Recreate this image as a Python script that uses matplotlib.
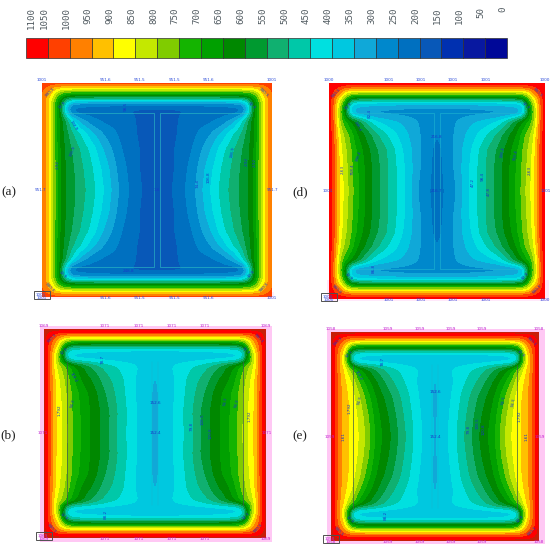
import numpy as np
import matplotlib
matplotlib.use("Agg")
import matplotlib.pyplot as plt
from matplotlib.colors import ListedColormap, BoundaryNorm
from matplotlib.patches import Rectangle

W, H = 550, 546

# ---- colour scale -------------------------------------------------
band_colors = ["#ff0000", "#ff4000", "#ff8000", "#ffc000", "#ffff00", "#c4e800",
               "#80cc00", "#14b400", "#00a000", "#008800", "#009a30", "#10b070",
               "#00c8a8", "#00e0e0", "#00c8e0", "#10a8d8", "#0088cc", "#0070c0",
               "#0858b8", "#0030b0", "#0818a0", "#000898"]
scale_labels = ["1100", "1050", "1000", "950", "900", "850", "800", "750", "700", "650",
                "600", "550", "500", "450", "400", "350", "300", "250", "200", "150",
                "100", "50", "0"]
overheat_color = "#c81e08"

# ---- temperature fields: upper-left quarter of each section ---------
u_pos = [0, .04, .08, .12, .16, .20, .26, .34, .44, .55, .68, .84, 1]
v_pos = [0, .04, .08, .12, .16, .20, .25, .29, .36, .48, .62, .80, 1]

field_a = [
    [1050, 1040, 1035, 1030, 1030, 1030, 1030, 1030, 1030, 1030, 1030, 1030, 1030],
    [1020, 985, 950, 930, 920, 915, 910, 905, 905, 905, 905, 905, 905],
    [1005, 970, 925, 850, 790, 770, 765, 760, 760, 760, 760, 760, 760],
    [1005, 945, 875, 790, 700, 640, 615, 610, 610, 610, 610, 610, 610],
    [1005, 940, 850, 730, 620, 510, 430, 410, 405, 400, 400, 395, 395],
    [1005, 940, 840, 720, 600, 420, 280, 265, 260, 255, 250, 250, 250],
    [1005, 940, 835, 715, 590, 380, 240, 230, 225, 220, 205, 190, 190],
    [1005, 940, 835, 715, 610, 450, 270, 240, 235, 230, 215, 195, 190],
    [1005, 945, 835, 715, 630, 560, 440, 330, 265, 240, 225, 195, 185],
    [1005, 945, 835, 715, 625, 585, 510, 445, 360, 290, 240, 195, 180],
    [1005, 945, 840, 725, 635, 595, 545, 490, 425, 335, 255, 200, 178],
    [1005, 940, 840, 730, 640, 600, 560, 510, 450, 375, 275, 200, 175],
    [1005, 940, 840, 730, 640, 600, 565, 520, 465, 390, 290, 205, 175],
]
field_d = [
    [1095] * 13,
    [1095, 1070, 1050, 1020, 1005, 1000, 1000, 1000, 1000, 1000, 1000, 1000, 1000],
    [1090, 1045, 1005, 950, 885, 860, 850, 850, 850, 850, 850, 850, 850],
    [1090, 1020, 950, 870, 780, 720, 695, 690, 690, 690, 690, 690, 690],
    [1090, 1005, 890, 800, 690, 520, 480, 470, 465, 460, 460, 455, 455],
    [1090, 1000, 865, 750, 610, 400, 365, 360, 350, 345, 340, 335, 335],
    [1090, 1000, 850, 720, 560, 370, 330, 310, 295, 290, 285, 280, 280],
    [1090, 1000, 850, 725, 570, 420, 330, 310, 300, 295, 290, 280, 270],
    [1090, 1005, 860, 745, 700, 650, 590, 495, 405, 370, 340, 295, 255],
    [1090, 1020, 900, 810, 775, 730, 650, 590, 510, 440, 375, 300, 250],
    [1090, 1025, 920, 840, 800, 755, 690, 625, 555, 490, 400, 305, 230],
    [1090, 1025, 925, 855, 810, 770, 705, 640, 570, 495, 415, 300, 225],
    [1090, 1025, 925, 860, 820, 775, 710, 640, 570, 490, 420, 285, 225],
]
field_b = [
    [1130] * 13,
    [1125, 1090, 1060, 1045, 1035, 1030, 1030, 1030, 1030, 1030, 1030, 1030, 1030],
    [1120, 1060, 1030, 970, 920, 895, 885, 880, 880, 880, 880, 880, 880],
    [1120, 1045, 985, 930, 830, 760, 720, 710, 710, 710, 710, 710, 710],
    [1120, 1040, 960, 890, 760, 620, 540, 520, 515, 510, 510, 510, 510],
    [1120, 1040, 935, 850, 700, 460, 420, 415, 410, 405, 400, 395, 395],
    [1120, 1040, 910, 810, 650, 420, 395, 385, 380, 375, 370, 370, 370],
    [1120, 1040, 905, 800, 670, 480, 400, 395, 390, 385, 380, 375, 370],
    [1120, 1040, 910, 830, 790, 745, 670, 605, 535, 480, 440, 402, 360],
    [1120, 1040, 925, 870, 820, 780, 710, 640, 590, 520, 465, 392, 345],
    [1120, 1040, 930, 880, 840, 800, 735, 680, 625, 550, 475, 392, 340],
    [1120, 1040, 930, 885, 850, 805, 740, 690, 635, 575, 485, 395, 340],
    [1120, 1040, 930, 885, 855, 810, 745, 690, 635, 575, 480, 395, 340],
]
field_e = [
    [1135] * 13,
    [1125, 1095, 1065, 1050, 1040, 1035, 1030, 1030, 1030, 1030, 1030, 1030, 1030],
    [1125, 1065, 1040, 1000, 960, 935, 925, 920, 920, 920, 920, 920, 920],
    [1125, 1045, 1000, 950, 860, 790, 745, 730, 730, 730, 730, 730, 730],
    [1125, 1040, 975, 920, 790, 640, 600, 590, 590, 590, 590, 590, 590],
    [1125, 1035, 955, 890, 730, 470, 420, 410, 405, 400, 400, 395, 395],
    [1125, 1035, 945, 850, 680, 420, 395, 385, 380, 375, 370, 370, 370],
    [1125, 1035, 945, 865, 720, 490, 400, 395, 390, 385, 380, 375, 370],
    [1125, 1035, 950, 900, 830, 770, 680, 610, 540, 480, 435, 400, 360],
    [1125, 1035, 960, 925, 880, 850, 760, 680, 600, 525, 460, 392, 345],
    [1125, 1030, 965, 935, 900, 875, 820, 730, 640, 570, 490, 400, 340],
    [1130, 1030, 965, 935, 905, 880, 845, 770, 665, 600, 510, 410, 340],
    [1130, 1030, 965, 935, 905, 880, 855, 790, 680, 615, 525, 415, 340],
]

# ---- small node labels (texts) ----------------------------------------
edge_a = ["1001", "951.6", "951.5", "951.5", "951.6", "1001"]
edge_d = ["1000", "1001", "1001", "1001", "1001", "1000"]
edge_b = ["1069", "1071", "1071", "1071", "1071", "1069"]
edge_e = ["1058", "1059", "1059", "1059", "1059", "1058"]
side_a, side_d, side_b, side_e = "951.7", "1001", "1071", "1059"
corner_a, corner_d, corner_b, corner_e = "1001", "1000", "1069", "1058"
inner_a = ["98.5", "248.8", "2.92", "198.9", "134.9", "1.6", "74.4", "106.8", "198.9", "2.92", "2.92"]
inner_d = ["82.4", "86.8", "2.63", "758.4", "198.4", "246.4", "216.8", "216.7", "47.2", "98.4", "47.8", "198.4", "758.4", "2.63"]
inner_b = ["78.7", "88.2", "1.792", "94.3", "118.2", "152.6", "152.4", "79.8", "108.5", "120.8", "94.3", "94.3", "1.792"]
inner_e = ["78.7", "88.2", "1.792", "1.61", "94.3", "118.2", "152.6", "152.4", "79.8", "108.5", "120.8", "94.3", "94.3", "1.792", "1.61"]
tags_a = ["930.3", "32.9", "930.3", "32.9", "930.3", "32.9", "930.3", "32.9"]

# ---- layout (pixels): left, right, top, bottom --------------------------
boxes = {"a": (42, 272, 83, 297), "d": (329, 545, 83, 299),
         "b": (44, 266, 329, 538), "e": (331, 539, 332, 541)}
fields = {"a": field_a, "d": field_d, "b": field_b, "e": field_e}
edges = {"a": edge_a, "d": edge_d, "b": edge_b, "e": edge_e}
sides = {"a": side_a, "d": side_d, "b": side_b, "e": side_e}
corners = {"a": corner_a, "d": corner_d, "b": corner_b, "e": corner_e}
inners = {"a": inner_a, "d": inner_d, "b": inner_b, "e": inner_e}
letter_px = {"a": (9, 192), "d": (300, 192), "b": (8, 435), "e": (300, 436)}
label_color = {"a": "#2848d8", "d": "#2848d8", "b": "#c020d0", "e": "#c020d0"}
inner_uv = {
    "a": [(-.275, .78, 90), (-.25, -.76, 0), (-.86, .24, 90), (-.73, .36, 70), (-.73, .6, -60),
          (0, 0, 0), (.35, .06, 90), (.45, .12, 90), (.66, .35, 80), (.78, .27, 90), (.85, .26, 90)],
    "d": [(-.62, .72, 90), (-.59, -.72, 90), (-.87, .2, 90), (-.78, .2, 90), (-.73, .32, 70),
          (-.74, .6, -60), (0, .5, 0), (0, 0, 0), (.33, .08, 90), (.42, .13, 90), (.48, 0, 90),
          (.61, .36, 80), (.73, .33, 80), (.86, .19, 90)],
    "b": [(-.47, .71, 90), (-.44, -.77, 90), (-.86, .22, 90), (-.74, .29, 75), (-.74, .54, -60),
          (0, .29, 0), (0, 0, 0), (.33, .07, 90), (.43, .14, 90), (.5, 0, 90),
          (.64, .31, 80), (.74, .29, 75), (.85, .17, 90)],
    "e": [(-.5, .72, 90), (-.47, -.76, 90), (-.82, .27, 90), (-.88, 0, 90), (-.72, .35, 75),
          (-.74, .58, -60), (0, .43, 0), (0, 0, 0), (.32, .07, 90), (.41, .13, 90), (.47, .07, 90),
          (.66, .35, 80), (.76, .33, 80), (.81, .19, 90), (.88, 0, 90)],
}
tag_uv = [(-.93, .91, 45), (-.82, .79, 45), (.93, .91, -45), (.82, .79, -45),
          (-.93, -.91, -45), (-.82, -.79, -45), (.93, -.91, 45), (.82, -.79, 45)]


def refine(z, xs, ys, n=401, sigma=.02):
    """Resample the read field on a fine grid and soften it, for round isotherms."""
    gx = np.linspace(xs[0], xs[-1], n)
    gy = np.linspace(ys[0], ys[-1], n)
    a = np.array([np.interp(gx, xs, row) for row in z])
    a = np.array([np.interp(gy, ys, col) for col in a.T]).T
    step = gx[1] - gx[0]
    half = int(4 * sigma / step)
    k = np.exp(-.5 * (np.arange(-half, half + 1) * step / sigma) ** 2)
    k /= k.sum()
    for axis in (0, 1):
        pad = [(half, half) if i == axis else (0, 0) for i in (0, 1)]
        a = np.apply_along_axis(lambda m: np.convolve(m, k, mode="valid"), axis,
                                np.pad(a, pad, mode="edge"))
    return gx, gy, a


fig = plt.figure(figsize=(W / 100, H / 100), dpi=100)
bg = fig.add_axes([0, 0, 1, 1])
bg.set_xlim(0, W); bg.set_ylim(H, 0); bg.axis("off")
ov = fig.add_axes([0, 0, 1, 1], zorder=5)
ov.set_xlim(0, W); ov.set_ylim(H, 0); ov.axis("off"); ov.patch.set_alpha(0)

# colour bar
bar_l, bar_r, bar_t, bar_b = 26, 507, 38, 58
cell = (bar_r - bar_l) / len(band_colors)
for i, c in enumerate(band_colors):
    ov.add_patch(Rectangle((bar_l + i * cell, bar_t), cell, bar_b - bar_t, fc=c,
                           ec="#303030", lw=0.5))
for i, s in enumerate(scale_labels):
    x = 503 - 21.85 * (len(scale_labels) - 1 - i) if i else 31
    ov.text(x, 7, s, rotation=90, ha="center", va="top", fontsize=6.6,
            family="DejaVu Sans Mono", color="#505a60")

# pink fringes
pink = "#ffc8f4"
bg.add_patch(Rectangle((40, 326), 232, 216, fc=pink, ec="none"))
bg.add_patch(Rectangle((327, 329), 218, 215, fc=pink, ec="none"))
bg.add_patch(Rectangle((327, 280), 222, 21, fc="#ffe8fa", ec="none"))
bg.add_patch(Rectangle((40, 292), 234, 7, fc="#ffeefb", ec="none"))

levels = np.arange(0, 1101, 50)
all_levels = np.append(levels, 1200)
colors = band_colors[::-1] + [overheat_color]
cmap = ListedColormap(colors)
norm = BoundaryNorm(all_levels, cmap.N)

for key, (l, r, t, b) in boxes.items():
    ax = fig.add_axes([l / W, 1 - b / H, (r - l) / W, (b - t) / H], zorder=2)
    q = np.array(fields[key], dtype=float)
    p = np.array(u_pos); s = np.array(v_pos)
    x = np.concatenate([p - 1, (1 - p)[-2::-1]])
    y = np.concatenate([s - 1, (1 - s)[-2::-1]])
    top = np.hstack([q, q[:, -2::-1]])
    z = np.vstack([top, top[-2::-1, :]])
    gx, gy, gz = refine(z, x, y)
    for _ in range(2):
        ax.contourf(gx, gy, gz, levels=all_levels, cmap=cmap, norm=norm)
    ax.set_xlim(-1, 1); ax.set_ylim(-1, 1); ax.axis("off")

    # steel outline
    if key in "ad":
        col = "#30c4c4" if key == "a" else "#20b8d0"
        for sx in (-1, 1):
            ax.plot([sx * .8, sx * .028, sx * .028, sx * .8], [.72, .72, -.72, -.72],
                    color=col, lw=0.4)
    else:
        for sx in (-1, 1):
            ax.plot([sx * .79, sx * .79], [.68, -.68], color="#3a5a50", lw=0.5)
            ax.plot([sx * .03, sx * .03], [.68, -.68], color="#20b0c8", lw=0.3)

    # texts
    col = label_color[key]
    cx, cy = (l + r) / 2, (t + b) / 2
    hw, hh = (r - l) / 2, (b - t) / 2
    for txt, f in zip(edges[key], [-1, -.45, -.15, .15, .45, 1]):
        ov.text(cx + f * hw, t - 1, txt, fontsize=3, color=col, ha="center", va="bottom")
        ov.text(cx + f * hw, b + 1, txt, fontsize=3, color=col, ha="center", va="center")
    for f in (-1, 1):
        ov.text(cx + f * (hw + 1), cy, sides[key], fontsize=3, color=col, ha="center", va="center")
    for txt, (fu, fv, rot) in zip(inners[key], inner_uv[key]):
        ov.text(cx + fu * hw, cy - fv * hh, txt, fontsize=3, color="#1838c8",
                rotation=rot, ha="center", va="center")
    for txt, (fu, fv, rot) in zip(tags_a, tag_uv):
        ov.text(cx + fu * hw, cy - fv * hh, txt, fontsize=3, color="#1838c8",
                rotation=rot, ha="center", va="center")
    ov.add_patch(Rectangle((l - 8, b - 6), 16, 8, fc="none", ec="#505050", lw=0.7))
    ov.text(l - 1, b - 2, corners[key], fontsize=3, color=col, ha="center", va="center")
    lx, ly = letter_px[key]
    ov.text(lx, ly, f"({key})", fontsize=9.5, family="Liberation Serif", color="#202020",
            ha="center", va="center")

fig.savefig("out.png", dpi=100)
